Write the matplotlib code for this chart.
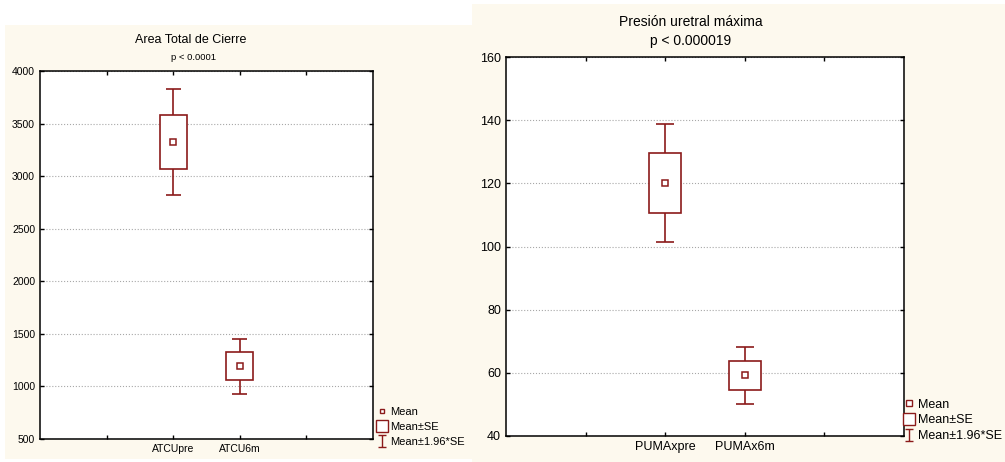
import numpy as np
import matplotlib
matplotlib.use('Agg')
import matplotlib.pyplot as plt
from matplotlib.lines import Line2D
from matplotlib.path import Path
from matplotlib.patches import Rectangle

plt.rcParams['font.family'] = ['Liberation Sans', 'DejaVu Sans']

# Valores (media y error estandar)
atc_labels = ['ATCUpre', 'ATCU6m']
atc_mean = [3325, 1190]
atc_se = [255, 133]

puma_labels = ['PUMAxpre', 'PUMAx6m']
puma_mean = [120.2, 59.2]
puma_se = [9.5, 4.6]

RED = '#8b1a1a'
CREAM = '#fdf9ee'
W, H = 1005, 462

fig = plt.figure(figsize=(W / 100, H / 100), dpi=100, facecolor='white')

# fondos crema de cada panel
fig.patches.append(Rectangle((5 / W, 1 - 459 / H), 467 / W, 434 / H,
                             transform=fig.transFigure, facecolor=CREAM, edgecolor='none', zorder=-5))
fig.patches.append(Rectangle((472 / W, 0), 533 / W, 1 - 4 / H,
                             transform=fig.transFigure, facecolor=CREAM, edgecolor='none', zorder=-5))

# marcador tipo "I" para la leyenda
ibar = Path([(-0.7, -1), (0.7, -1), (0, -1), (0, 1), (-0.7, 1), (0.7, 1)],
            [Path.MOVETO, Path.LINETO, Path.MOVETO, Path.LINETO, Path.MOVETO, Path.LINETO])


def box_panel(ax, labels, means, ses, ylim, yticks, fs, msize):
    x = np.arange(len(labels)) + 2
    means = np.array(means)
    ses = np.array(ses)
    ci = 1.96 * ses
    ax.vlines(x, means + ses, means + ci, color=RED, lw=1.2, zorder=3)
    ax.vlines(x, means - ci, means - ses, color=RED, lw=1.2, zorder=3)
    ax.hlines(np.concatenate([means + ci, means - ci]), np.concatenate([x, x]) - 0.11,
              np.concatenate([x, x]) + 0.11, color=RED, lw=1.2, zorder=3)
    ax.bar(x, 2 * ses, bottom=means - ses, width=0.4, facecolor='white',
           edgecolor=RED, lw=1.2, zorder=3)
    ax.plot(x, means, 's', ms=msize, mfc='white', mec=RED, mew=1.1, zorder=4)
    ax.set_xlim(0, 5)
    ax.set_ylim(*ylim)
    ax.set_yticks(yticks)
    ax.set_xticks([1, 2, 3, 4])
    ax.set_xticklabels([''] + labels + [''])
    ax.tick_params(direction='in', length=3, top=True, right=True, labelsize=fs,
                   width=1, colors='black')
    ax.grid(axis='y', linestyle=':', color='#a8a8a8', lw=0.8)
    ax.set_axisbelow(True)
    for s in ax.spines.values():
        s.set_linewidth(1.1)
    ax.set_facecolor('white')


def legend(fs, anchor, sizes, spacing):
    handles = [
        Line2D([], [], ls='none', marker='s', ms=sizes[0], mfc='white', mec=RED, mew=1.0),
        Line2D([], [], ls='none', marker='s', ms=sizes[1], mfc='white', mec=RED, mew=1.0),
        Line2D([], [], ls='none', marker=ibar, ms=sizes[2], mec=RED, mew=1.0),
    ]
    fig.legend(handles, ['Mean', 'Mean±SE', 'Mean±1.96*SE'], loc='lower left',
               bbox_to_anchor=anchor, frameon=False, fontsize=fs, handlelength=0.9,
               handletextpad=0.3, labelspacing=spacing, borderpad=0, borderaxespad=0)


ax1 = fig.add_axes([40 / W, 1 - 439 / H, 333 / W, 368 / H])
box_panel(ax1, atc_labels, atc_mean, atc_se, (500, 4000),
          np.arange(500, 4001, 500), 7.5, 3.8)
fig.text(191 / W, 1 - 40 / H, 'Area Total de Cierre', ha='center', va='center', fontsize=9)
fig.text(193 / W, 1 - 57 / H, 'p < 0.0001', ha='center', va='center', fontsize=6.8)
legend(8, (377 / W, 1 - 447 / H), (3.5, 8, 8), 0.45)

ax2 = fig.add_axes([506 / W, 1 - 436 / H, 398 / W, 379 / H])
box_panel(ax2, puma_labels, puma_mean, puma_se, (40, 160),
          np.arange(40, 161, 20), 9, 4.2)
fig.text(691 / W, 1 - 22 / H, 'Presión uretral máxima', ha='center', va='center', fontsize=10)
fig.text(691 / W, 1 - 41 / H, 'p < 0.000019', ha='center', va='center', fontsize=10)
legend(9, (903 / W, 1 - 442 / H), (4, 9, 9), 0.3)

plt.savefig('out.png', dpi=100, facecolor=fig.get_facecolor())
